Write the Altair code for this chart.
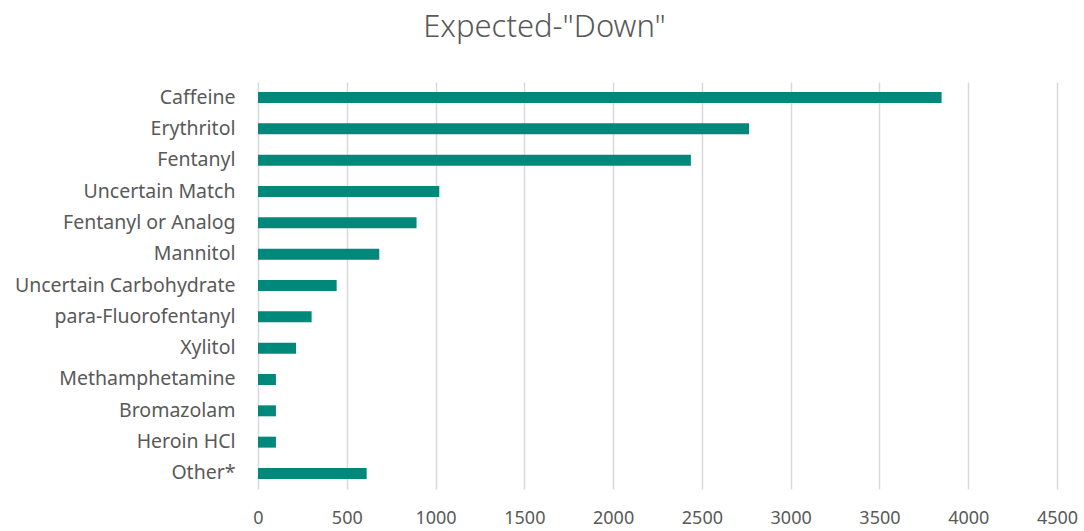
import altair as alt
import pandas as pd

categories = ["Caffeine", "Erythritol", "Fentanyl", "Uncertain Match", "Fentanyl or Analog",
              "Mannitol", "Uncertain Carbohydrate", "para-Fluorofentanyl", "Xylitol",
              "Methamphetamine", "Bromazolam", "Heroin HCl", "Other*"]
counts = [3850, 2766, 2438, 1021, 893, 683, 443, 302, 214, 101, 101, 101, 612]
x_ticks = [0, 500, 1000, 1500, 2000, 2500, 3000, 3500, 4000, 4500]

df = pd.DataFrame({"substance": categories, "count": counts})

FONT = "Noto Sans"
GRAY = "#595959"

chart = alt.Chart(df).mark_bar(color="#00897B").encode(
    x=alt.X("count:Q",
            scale=alt.Scale(domain=[0, 4500], nice=False),
            axis=alt.Axis(values=x_ticks, format="d", title=None, domain=False, ticks=False,
                          grid=True, gridColor="#d9d9d9", gridWidth=1.5,
                          labelFont=FONT, labelFontSize=18, labelColor=GRAY,
                          labelPadding=20, labelFlush=False)),
    y=alt.Y("substance:N", sort=categories,
            scale=alt.Scale(paddingInner=0.65, paddingOuter=0.32),
            axis=alt.Axis(title=None, domain=False, ticks=False,
                          labelFont=FONT, labelFontSize=19.5, labelColor=GRAY,
                          labelPadding=23, labelLimit=400)),
).properties(
    width=799, height=407,
    title=alt.TitleParams('Expected-"Down"', font=FONT, fontSize=31, fontWeight=300,
                          color=GRAY, anchor="middle", frame="group", dx=-113, offset=38),
    autosize=alt.AutoSizeParams(type="none"),
    padding={"left": 258, "top": 82, "right": 27, "bottom": 42},
).configure_view(stroke=None)

chart.save("out.html", embed_options={"renderer": "svg", "actions": False})
